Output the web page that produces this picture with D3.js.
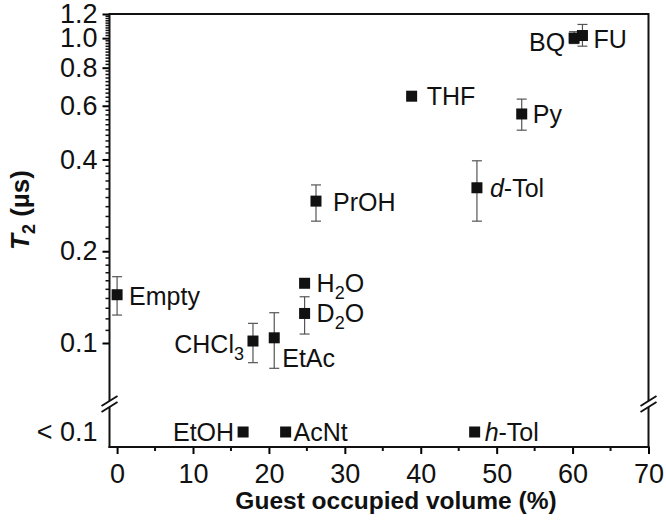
<!DOCTYPE html>
<html>
<head>
<meta charset="utf-8">
<script src="https://cdn.jsdelivr.net/npm/d3@7"></script>
<style>
  body { margin: 0; background: #fff; }
  svg text { font-family: "Liberation Sans", Arial, sans-serif; fill: #111; }
</style>
</head>
<body>
<div id="chart"></div>
<script>
// Guests with a measurable T2
const guests   = ["Empty", "CHCl3", "EtAc", "H2O", "D2O", "PrOH", "THF", "d-Tol", "Py", "BQ", "FU"];
const labels   = ["Empty", "CHCl_3", "EtAc", "H_2O", "D_2O", "PrOH", "THF", "*d*-Tol", "Py", "BQ", "FU"];
const volume   = [0, 17.9, 20.7, 24.7, 24.7, 26.2, 38.8, 47.4, 53.3, 60.2, 61.3];
const t2       = [0.144, 0.1015, 0.104, 0.157, 0.125, 0.292, 0.645, 0.323, 0.564, 1.0, 1.02];
const errLow   = [0.1235, 0.0862, 0.0826, null, 0.107, 0.251, null, 0.251, 0.499, 0.96, 0.941];
const errHigh  = [0.165, 0.116, 0.1257, null, 0.1418, 0.33, null, 0.396, 0.631, 1.05, 1.109];

// Guests below the detection limit
const lowGuests = ["EtOH", "AcNt", "h-Tol"];
const lowLabels = ["EtOH", "AcNt", "*h*-Tol"];
const lowVolume = [16.6, 22.2, 47.1];
const lowCategory = "< 0.1";

// tick values
const xTicks = [0, 10, 20, 30, 40, 50, 60, 70];
const xMinor = [5, 15, 25, 35, 45, 55, 65];
const yTicks = [0.1, 0.2, 0.4, 0.6, 0.8, 1.0, 1.2];

// label placement (dx, dy from the marker centre)
const place = {
    "Empty": [12, 10, "start"], "CHCl3": [-9, 12, "end"], "EtAc": [8, 29, "start"],
    "H2O": [12, 9, "start"], "D2O": [12, 9, "start"], "PrOH": [17, 10, "start"],
    "THF": [15, 9, "start"], "d-Tol": [13, 9, "start"], "Py": [11, 9, "start"],
    "BQ": [-9, 13, "end"], "FU": [11, 12, "start"],
    "EtOH": [-9, 9, "end"], "AcNt": [8, 9, "start"], "h-Tol": [10, 9, "start"]
};

const W = 666, H = 525;
const plotL = 109.5, plotR = 648.5, plotT = 14, plotB = 447, breakY = 403;

const svg = d3.select("#chart").append("svg")
    .attr("width", W).attr("height", H);

const x = d3.scaleLinear().domain([-1, 70]).range([plotL, plotR]);
const y = d3.scaleLog().domain([0.1, 1.2]).range([343, plotT]);
const yLow = d3.scaleBand().domain([lowCategory]).range([417, plotB]);

// write a label with _sub and *italic* markup
function writeLabel(sel, str) {
    let parts = str.split(/(_\d|\*[^*]+\*)/).filter(s => s !== "");
    let shifted = false;
    parts.forEach(function(p) {
        let t = sel.append("tspan");
        if (p[0] === "_") {
            t.text(p.slice(1)).style("font-size", "18px").attr("dy", 7);
            shifted = true;
        } else {
            if (shifted) { t.attr("dy", -7); shifted = false; }
            if (p[0] === "*") t.text(p.slice(1, -1)).style("font-style", "italic");
            else t.text(p);
        }
    });
}

// ---- axes ----
const xAxis = svg.append("g")
    .attr("transform", "translate(0," + plotB + ")")
    .call(d3.axisBottom(x).tickValues(xTicks).tickSize(7).tickPadding(10).tickFormat(d3.format("d")));
xAxis.select(".domain").remove();
xAxis.selectAll("line").attr("stroke-width", 2);
xAxis.selectAll("text").style("font-size", "27px");

svg.append("g").selectAll("line")
    .data(xMinor).enter().append("line")
    .attr("x1", d => x(d)).attr("x2", d => x(d))
    .attr("y1", plotB).attr("y2", plotB + 4)
    .attr("stroke", "#111").attr("stroke-width", 2);

const yAxis = svg.append("g")
    .attr("transform", "translate(" + plotL + ",0)")
    .call(d3.axisLeft(y).tickValues(yTicks).tickSize(7).tickPadding(5).tickFormat(d3.format(".1f")));
yAxis.select(".domain").remove();
yAxis.selectAll("line").attr("stroke-width", 2);
yAxis.selectAll("text").style("font-size", "27px");

// minor log ticks
let yMinor = [];
for (let v = 11; v < 20; v++) yMinor.push(v / 100);
for (let v = 22; v < 120; v += 2) if (![40, 60, 80, 100].includes(v)) yMinor.push(v / 100);
svg.append("g").selectAll("line")
    .data(yMinor).enter().append("line")
    .attr("x1", plotL - 4).attr("x2", plotL)
    .attr("y1", d => y(d)).attr("y2", d => y(d))
    .attr("stroke", "#111").attr("stroke-width", 1.5);

const yLowAxis = svg.append("g")
    .attr("transform", "translate(" + plotL + ",0)")
    .call(d3.axisLeft(yLow).tickSize(0).tickPadding(12));
yLowAxis.select(".domain").remove();
yLowAxis.selectAll("text").style("font-size", "27px");

// frame with broken side lines
const frame = svg.append("g").attr("stroke", "#111").attr("stroke-width", 2).attr("fill", "none");
[plotL, plotR].forEach(function(px) {
    frame.append("line").attr("x1", px).attr("x2", px).attr("y1", plotT - 1).attr("y2", breakY - 2);
    frame.append("line").attr("x1", px).attr("x2", px).attr("y1", breakY + 4).attr("y2", plotB + 1);
    frame.append("line").attr("x1", px - 8).attr("x2", px + 8).attr("y1", breakY + 3).attr("y2", breakY - 7);
    frame.append("line").attr("x1", px - 8).attr("x2", px + 8).attr("y1", breakY + 9).attr("y2", breakY - 1);
});
frame.append("line").attr("x1", plotL).attr("x2", plotR).attr("y1", plotT).attr("y2", plotT);
frame.append("line").attr("x1", plotL - 1).attr("x2", plotR + 1).attr("y1", plotB).attr("y2", plotB);

// axis titles
svg.append("text")
    .attr("x", 396).attr("y", 509)
    .attr("text-anchor", "middle")
    .style("font-size", "24.5px").style("font-weight", "bold")
    .text("Guest occupied volume (%)");

const yTitle = svg.append("text")
    .attr("transform", "translate(29,210) rotate(-90)")
    .attr("text-anchor", "middle")
    .style("font-size", "26px").style("font-weight", "bold");
yTitle.append("tspan").style("font-style", "italic").text("T");
yTitle.append("tspan").style("font-size", "18px").attr("dy", 6).text("2");
yTitle.append("tspan").attr("dy", -6).text(" (\u00b5s)");

// ---- error bars ----
const pts = guests.map((g, i) => ({
    name: g, label: labels[i], x: volume[i], y: t2[i], lo: errLow[i], hi: errHigh[i]
}));
const eb = svg.append("g").attr("stroke", "#555").attr("stroke-width", 1.2);
pts.filter(d => d.lo != null).forEach(function(d) {
    let cx = x(d.x);
    eb.append("line").attr("x1", cx).attr("x2", cx).attr("y1", y(d.lo)).attr("y2", y(d.hi));
    eb.append("line").attr("x1", cx - 5).attr("x2", cx + 5).attr("y1", y(d.lo)).attr("y2", y(d.lo));
    eb.append("line").attr("x1", cx - 5).attr("x2", cx + 5).attr("y1", y(d.hi)).attr("y2", y(d.hi));
});

// ---- markers ----
const size = 11;
svg.append("g").selectAll("rect")
    .data(pts).enter().append("rect")
    .attr("x", d => x(d.x) - size / 2)
    .attr("y", d => y(d.y) - size / 2)
    .attr("width", size).attr("height", size)
    .attr("fill", "#111");

const lowPts = lowGuests.map((g, i) => ({ name: g, label: lowLabels[i], x: lowVolume[i] }));
const lowY = yLow(lowCategory) + yLow.bandwidth() / 2;
svg.append("g").selectAll("rect")
    .data(lowPts).enter().append("rect")
    .attr("x", d => x(d.x) - size / 2)
    .attr("y", lowY - size / 2)
    .attr("width", size).attr("height", size)
    .attr("fill", "#111");

// ---- point labels ----
pts.forEach(function(d) {
    let p = place[d.name];
    let t = svg.append("text")
        .attr("x", x(d.x) + p[0]).attr("y", y(d.y) + p[1])
        .attr("text-anchor", p[2])
        .style("font-size", "25px");
    writeLabel(t, d.label);
});
lowPts.forEach(function(d) {
    let p = place[d.name];
    let t = svg.append("text")
        .attr("x", x(d.x) + p[0]).attr("y", lowY + p[1])
        .attr("text-anchor", p[2])
        .style("font-size", "25px");
    writeLabel(t, d.label);
});
</script>
</body>
</html>
